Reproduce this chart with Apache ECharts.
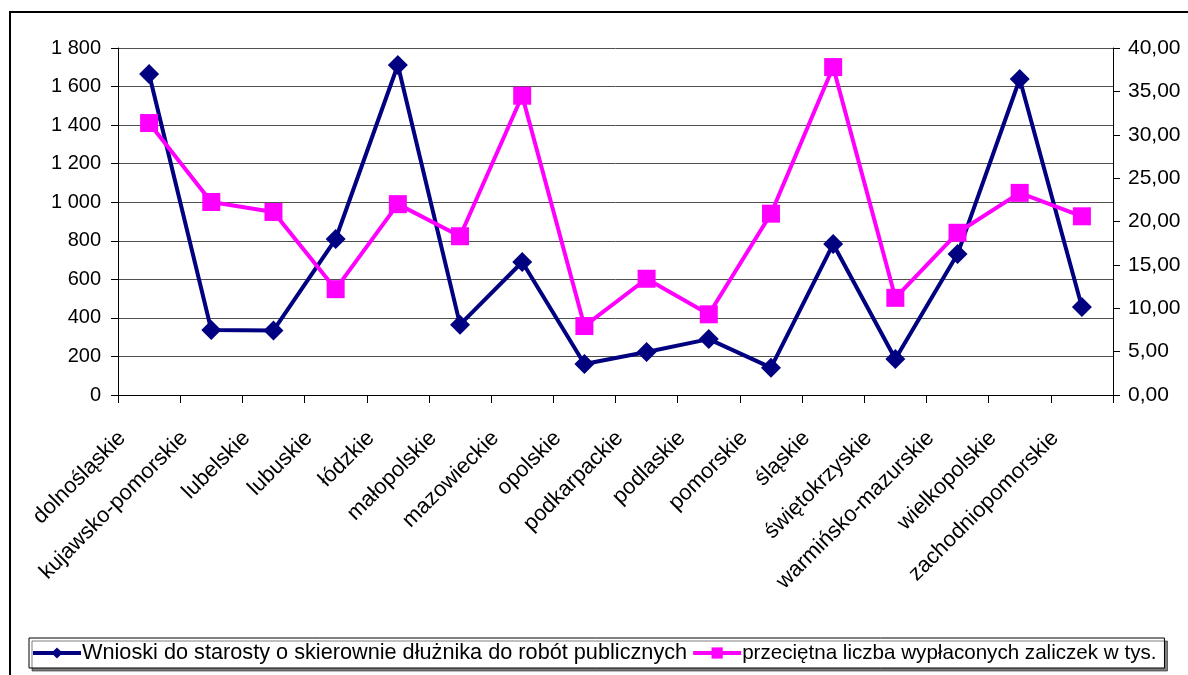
<!DOCTYPE html>
<html><head><meta charset="utf-8">
<script src="https://cdn.jsdelivr.net/npm/echarts@6/dist/echarts.min.js"></script>
<style>html,body{margin:0;padding:0;background:#fff}#c{width:1188px;height:675px}</style>
</head><body><div id="c"></div>
<script>
const categories = ['dolnośląskie','kujawsko-pomorskie','lubelskie','lubuskie','łódzkie','małopolskie','mazowieckie','opolskie','podkarpackie','podlaskie','pomorskie','śląskie','świętokrzyskie','warmińsko-mazurskie','wielkopolskie','zachodniopomorskie'];
const wnioski = [1665, 337, 335, 809, 1712, 365, 690, 161, 223, 290, 142, 783, 187, 731, 1639, 456];
const zaliczki = [31.35, 22.25, 21.1, 12.2, 22.0, 18.3, 34.5, 7.95, 13.4, 9.3, 20.9, 37.8, 11.2, 18.7, 23.3, 20.6];
const seriesNames = ['Wnioski do starosty o skierownie dłużnika do robót publicznych', 'przeciętna liczba wypłaconych zaliczek w tys.'];

const font = 'Liberation Sans, Arial, sans-serif';
const chart = echarts.init(document.getElementById('c'));
chart.setOption({
  animation: false,
  backgroundColor: '#fff',
  textStyle: {fontFamily: font},
  graphic: [{type:'rect', shape:{x:10, y:12, width:1200, height:700}, style:{fill:'none', stroke:'#000', lineWidth:2}, z:-1}],
  grid: {left:118, right:75, top:48, bottom:280},
  legend: {
    left: 29, top: 638, width: 1145,
    padding: [4, 8, 4, 2],
    itemGap: 4, itemWidth: 48, itemHeight: 14,
    borderColor: '#000', borderWidth: 1,
    backgroundColor: '#fff',
    shadowColor: 'rgba(0,0,0,0.5)', shadowOffsetX: 3, shadowOffsetY: 3, shadowBlur: 0,
    lineStyle: {width: 4},
    formatter: name => name === seriesNames[0] ? '{a|' + name + '}' : '{b|' + name + '}',
    textStyle: {color: '#000', fontFamily: font, padding:[0,0,0,-4],
      rich: {a: {fontSize: 21.7, color: '#000', fontFamily: font}, b: {fontSize: 20.6, color: '#000', fontFamily: font}}},
    data: seriesNames
  },
  xAxis: {
    type: 'category', data: categories, boundaryGap: true,
    axisLine: {lineStyle: {color: '#000', width: 1}},
    axisTick: {show: true, length: 8, lineStyle: {color: '#000'}},
    axisLabel: {rotate: 45, fontSize: 22, color: '#000', margin: 13, padding: [0, 38, 0, 0], interval: 0, fontFamily: font}
  },
  yAxis: [{
    type: 'value', min: 0, max: 1800, interval: 200, position: 'left',
    axisLine: {show: true, lineStyle: {color: '#000'}},
    axisTick: {show: true, length: 7, lineStyle: {color: '#000'}},
    splitLine: {show: true, lineStyle: {color: '#505050', width: 1}},
    axisLabel: {fontSize: 20, color: '#000', margin: 17, fontFamily: font,
      formatter: v => v >= 1000 ? Math.floor(v/1000) + ' ' + String(v%1000).padStart(3,'0') : String(v)}
  }, {
    type: 'value', min: 0, max: 40, interval: 5, position: 'right',
    axisLine: {show: true, lineStyle: {color: '#000'}},
    axisTick: {show: true, length: 7, lineStyle: {color: '#000'}},
    splitLine: {show: false},
    axisLabel: {fontSize: 21, color: '#000', margin: 15, fontFamily: font,
      formatter: v => v.toFixed(2).replace('.', ',')}
  }],
  series: [{
    name: seriesNames[0], type: 'line', yAxisIndex: 0, data: wnioski,
    symbol: 'diamond', symbolSize: 20,
    lineStyle: {color: '#000080', width: 4},
    itemStyle: {color: '#000080'}
  }, {
    name: seriesNames[1], type: 'line', yAxisIndex: 1, data: zaliczki,
    symbol: 'rect', symbolSize: 18,
    lineStyle: {color: '#ff00ff', width: 4},
    itemStyle: {color: '#ff00ff'}
  }]
});
</script></body></html>
